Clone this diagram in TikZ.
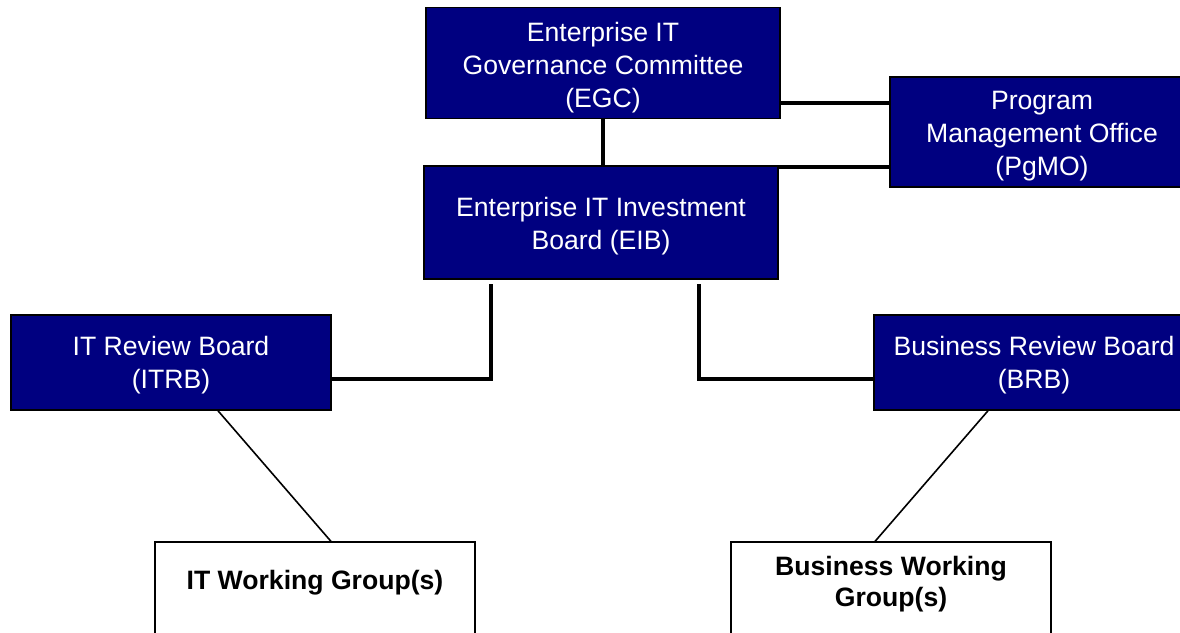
\documentclass[tikz,border=0pt]{standalone}
\usepackage{fontspec}
\setmainfont{Liberation Sans}
\definecolor{navy}{RGB}{0,0,128}
\begin{document}
\begin{tikzpicture}[x=1pt,y=-1pt,
  board/.style={draw=black, line width=1.5pt, fill=navy, inner sep=0pt},
  boardtext/.style={text=white, align=center, inner sep=0pt,
    font=\fontsize{26.6}{33}\selectfont},
  group/.style={draw=black, line width=1.2pt, fill=white, inner sep=0pt},
  grouptext/.style={text=black, align=center, inner sep=0pt,
    font=\fontsize{26.6}{31}\selectfont\bfseries},
  link/.style={draw=black, line width=3.2pt},
  diag/.style={draw=black, line width=1.6pt}]
\clip (0,0) rectangle (1180,632);
\fill[white] (0,0) rectangle (1180,632);
% boxes
\node[board, minimum width=354pt, minimum height=111pt] (egc) at (603,63) {};
\node[boardtext] (egct) at (603,68) {Enterprise IT\\Governance Committee\\(EGC)};
\node[board, minimum width=354pt, minimum height=113pt] (eib) at (601,222.5) {};
\node[boardtext] (eibt) at (601,226.5) {Enterprise IT Investment\\Board (EIB)};
\node[board, minimum width=304pt, minimum height=110pt] (pgmo) at (1042,132) {};
\node[boardtext] (pgmot) at (1042,136) {Program\\Management Office\\(PgMO)};
\node[board, minimum width=320pt, minimum height=95pt] (itrb) at (171,362.5) {};
\node[boardtext] (itrbt) at (171,365) {IT Review Board\\(ITRB)};
\node[board, minimum width=320pt, minimum height=95pt] (brb) at (1034,362.5) {};
\node[boardtext] (brbt) at (1034,365) {Business Review Board\\(BRB)};
\node[group, minimum width=320pt, minimum height=100pt] (itw) at (315,592) {};
\node[grouptext] (itwt) at (315,583) {IT Working Group(s)};
\node[group, minimum width=320pt, minimum height=100pt] (bw) at (891,592) {};
\node[grouptext] (bwt) at (891,584) {Business Working\\Group(s)};
% connectors
\draw[link] (egc.south) -- (egc.south |- eib.north);
\draw[link] (egc.east |- 0,103) -- (pgmo.west |- 0,103);
\draw[link] (eib.east |- 0,167) -- (pgmo.west |- 0,167);
\coordinate (eibL) at ([yshift=-4pt]eib.south -| 491,0);
\coordinate (eibR) at ([yshift=-4pt]eib.south -| 699,0);
\draw[link] (itrb.east |- 0,379) -| (eibL);
\draw[link] (brb.west |- 0,379) -| (eibR);
\draw[diag] (itrb.south -| 218,0) -- (itw.north -| 331,0);
\draw[diag] (brb.south -| 988,0) -- (bw.north -| 875,0);
\end{tikzpicture}
\end{document}
